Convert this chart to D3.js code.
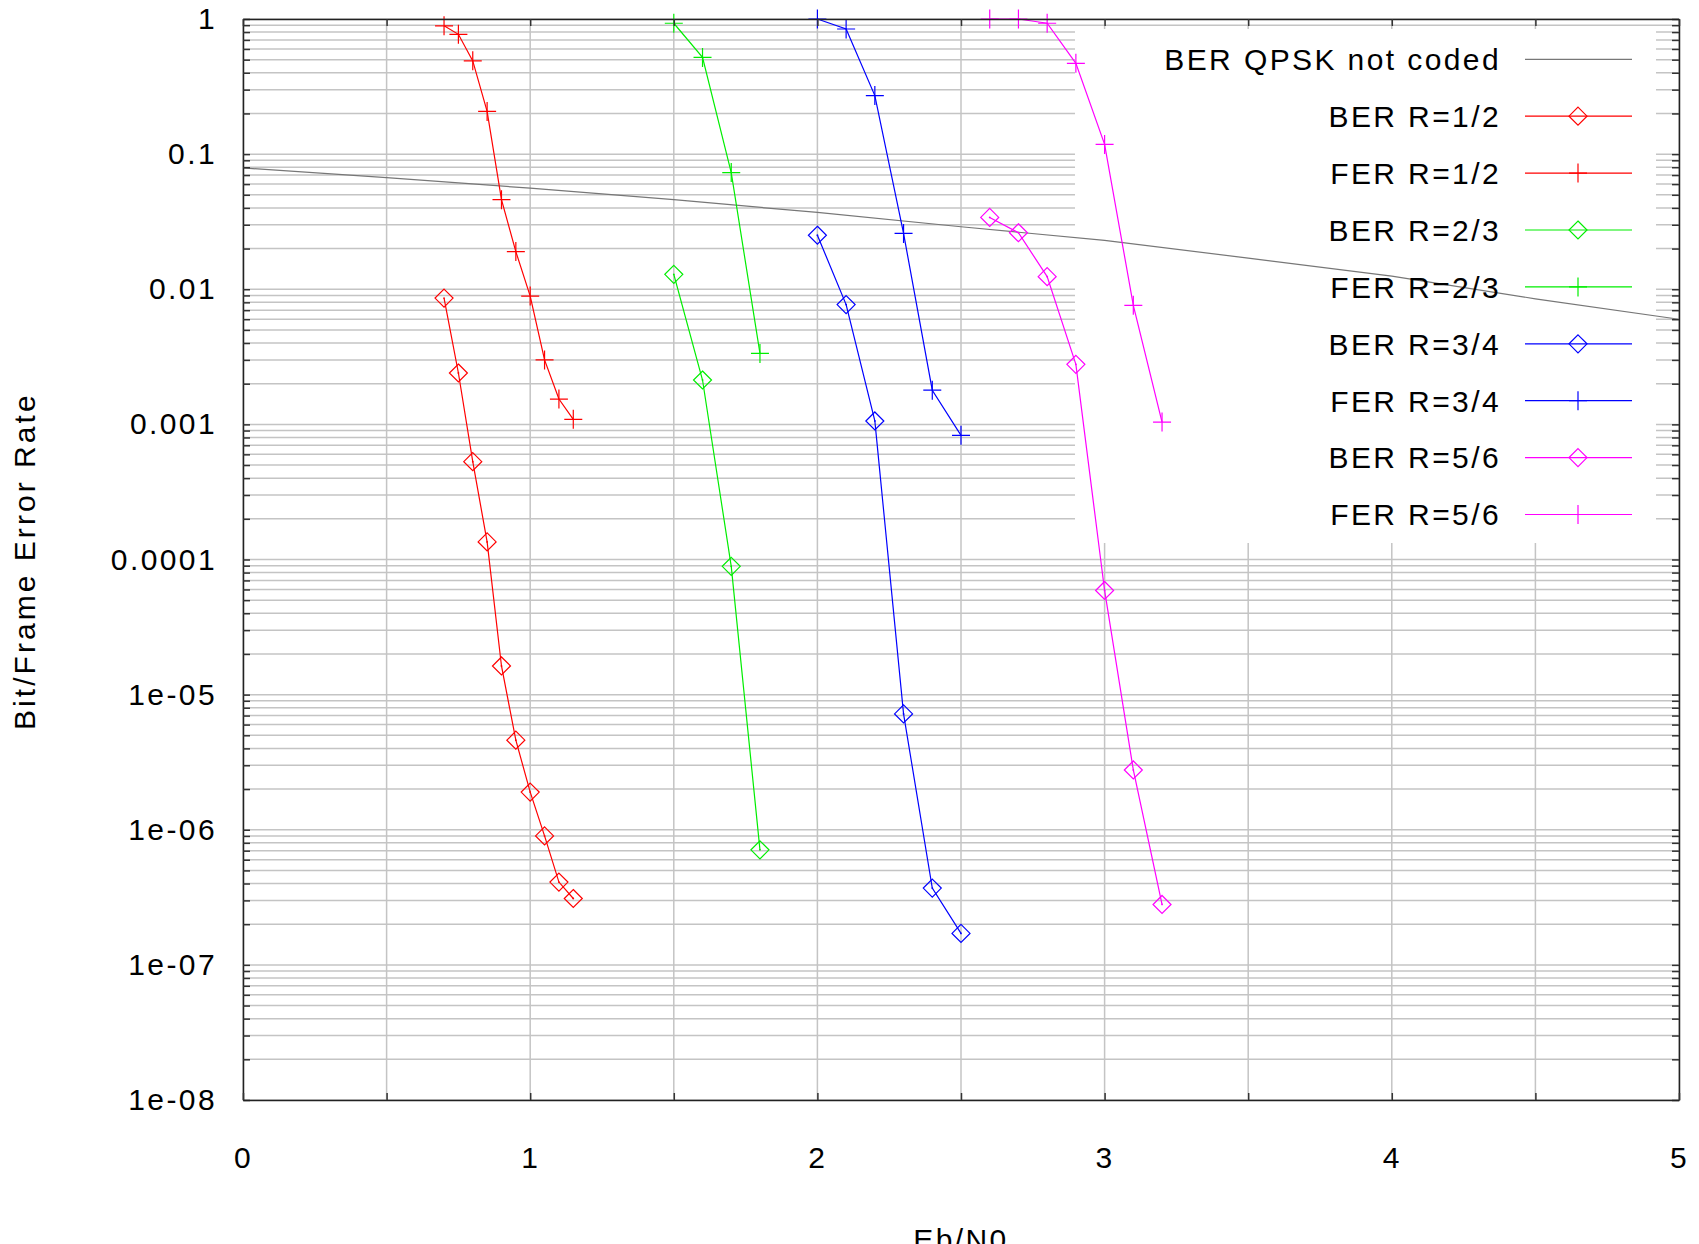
<!DOCTYPE html>
<html>
<head>
<meta charset="utf-8">
<title>BER / FER vs Eb/N0</title>
<script src="https://d3js.org/d3.v7.min.js"></script>
<style>
  body { margin: 0; background: #fff; }
  text {
    font-family: "Liberation Sans", Arial, Helvetica, sans-serif;
    font-size: 30px;
    fill: #000;
    letter-spacing: 2.4px;
  }
  .grid line { stroke: #c4c4c4; stroke-width: 1.5; }
  .axis path { stroke: #222; stroke-width: 1.5; }
  .axis line { stroke: #333; stroke-width: 1.5; }
</style>
</head>
<body>
<svg width="1699" height="1244"></svg>
<script>
// values
var ebn0Uncoded = [0, 0.5, 1, 1.5, 2, 2.5, 3, 3.5, 4, 4.5, 5];
var berUncoded  = [0.079, 0.067, 0.056, 0.046, 0.037, 0.029, 0.023, 0.017, 0.0125, 0.0085, 0.006];

var ebn0R12 = [0.7, 0.75, 0.8, 0.85, 0.9, 0.95, 1.0, 1.05, 1.1, 1.15];
var berR12  = [8.6e-3, 2.4e-3, 5.3e-4, 1.35e-4, 1.63e-5, 4.6e-6, 1.9e-6, 9.0e-7, 4.1e-7, 3.1e-7];
var ferR12  = [0.89, 0.77, 0.49, 0.207, 0.046, 0.019, 0.0089, 0.0030, 0.00154, 0.00109];

var ebn0R23 = [1.5, 1.6, 1.7, 1.8];
var berR23  = [0.0129, 0.00213, 8.9e-5, 7.1e-7];
var ferR23  = [0.93, 0.52, 0.073, 0.00335];

var ebn0R34 = [2.0, 2.1, 2.2, 2.3, 2.4, 2.5];
var berR34  = [0.0251, 0.0077, 0.00106, 7.2e-6, 3.7e-7, 1.71e-7];
var ferR34  = [1.0, 0.843, 0.271, 0.0259, 0.00179, 0.00083];

var ebn0R56 = [2.6, 2.7, 2.8, 2.9, 3.0, 3.1, 3.2];
var berR56  = [0.034, 0.0262, 0.0124, 0.00278, 5.9e-5, 2.77e-6, 2.8e-7];
var ferR56  = [1.0, 1.0, 0.93, 0.47, 0.118, 0.0076, 0.00104];

var xTickValues = [0, 0.5, 1, 1.5, 2, 2.5, 3, 3.5, 4, 4.5, 5];
var yDecades = [1, 1e-1, 1e-2, 1e-3, 1e-4, 1e-5, 1e-6, 1e-7, 1e-8];
var yTickLabels = ["1", "0.1", "0.01", "0.001", "0.0001", "1e-05", "1e-06", "1e-07", "1e-08"];

function zip(xs, ys) {
  return xs.map(function(v, i) { return [v, ys[i]]; });
}

var series = [
  { name: "BER QPSK not coded", color: "#777777", marker: null,      data: zip(ebn0Uncoded, berUncoded) },
  { name: "BER R=1/2", color: "#ff0000", marker: "diamond", data: zip(ebn0R12, berR12) },
  { name: "FER R=1/2", color: "#ff0000", marker: "plus",    data: zip(ebn0R12, ferR12) },
  { name: "BER R=2/3", color: "#00ee00", marker: "diamond", data: zip(ebn0R23, berR23) },
  { name: "FER R=2/3", color: "#00ee00", marker: "plus",    data: zip(ebn0R23, ferR23) },
  { name: "BER R=3/4", color: "#0000ff", marker: "diamond", data: zip(ebn0R34, berR34) },
  { name: "FER R=3/4", color: "#0000ff", marker: "plus",    data: zip(ebn0R34, ferR34) },
  { name: "BER R=5/6", color: "#ff00ff", marker: "diamond", data: zip(ebn0R56, berR56) },
  { name: "FER R=5/6", color: "#ff00ff", marker: "plus",    data: zip(ebn0R56, ferR56) }
];

var plotLeft = 243, plotRight = 1679, plotTop = 19, plotBottom = 1100;

var svg = d3.select("svg");

var x = d3.scaleLinear().domain([0, 5]).range([plotLeft, plotRight]);
var y = d3.scaleLog().domain([1, 1e-8]).range([plotTop, plotBottom]);

var markerPath = {
  diamond: "M0,-9L9,0L0,9L-9,0Z",
  plus: "M-9,0H9M0,-9.5V9.5"
};

// grid
var grid = svg.append("g").attr("class", "grid");
grid.selectAll(".gy")
  .data(y.ticks(100))
  .enter().append("line")
  .attr("x1", plotLeft).attr("x2", plotRight)
  .attr("y1", function(d) { return y(d); })
  .attr("y2", function(d) { return y(d); });
grid.selectAll(".gx")
  .data(xTickValues)
  .enter().append("line")
  .attr("x1", function(d) { return x(d); })
  .attr("x2", function(d) { return x(d); })
  .attr("y1", plotTop).attr("y2", plotBottom);

// legend background hides the grid under it
var legX = 1075, legY = 29, legW = 581, legH = 514;
svg.append("rect")
  .attr("x", legX).attr("y", legY)
  .attr("width", legW).attr("height", legH)
  .attr("fill", "#fff");

// curves
var line = d3.line()
  .x(function(d) { return x(d[0]); })
  .y(function(d) { return y(d[1]); });

var curves = svg.selectAll(".curve")
  .data(series)
  .enter().append("g")
  .attr("class", "curve");

curves.append("path")
  .attr("d", function(d) { return line(d.data); })
  .attr("fill", "none")
  .attr("stroke", function(d) { return d.color; })
  .attr("stroke-width", 1.2);

curves.each(function(s) {
  if (!s.marker) return;
  var g = d3.select(this);
  var pts = g.selectAll(".pt")
    .data(s.data)
    .enter().append("g")
    .attr("transform", function(d) { return "translate(" + x(d[0]) + "," + y(d[1]) + ")"; });
  pts.append("path")
    .attr("d", markerPath[s.marker])
    .attr("fill", "none")
    .attr("stroke", s.color)
    .attr("stroke-width", 1.2);
  if (s.marker === "diamond") {
    pts.append("circle").attr("r", 0.9).attr("fill", s.color);
  }
});

// legend entries
var legend = svg.selectAll(".leg")
  .data(series)
  .enter().append("g")
  .attr("class", "leg")
  .attr("transform", function(d, i) { return "translate(0," + (59.3 + i * 56.9) + ")"; });

legend.append("text")
  .attr("x", 1501)
  .attr("dy", "0.36em")
  .attr("text-anchor", "end")
  .text(function(d) { return d.name; });

legend.append("line")
  .attr("x1", 1525).attr("x2", 1632)
  .attr("stroke", function(d) { return d.color; })
  .attr("stroke-width", 1.2);

legend.filter(function(d) { return d.marker; })
  .append("path")
  .attr("transform", "translate(1578,0)")
  .attr("d", function(d) { return markerPath[d.marker]; })
  .attr("fill", "none")
  .attr("stroke", function(d) { return d.color; })
  .attr("stroke-width", 1.2);

// axes, ticks pointing inwards
var yAxisLeft = d3.axisLeft(y)
  .tickValues(y.ticks(100))
  .tickSizeInner(-7).tickSizeOuter(0).tickPadding(26)
  .tickFormat(function(d) {
    var i = yDecades.findIndex(function(v) { return Math.abs(Math.log10(v) - Math.log10(d)) < 1e-6; });
    return i >= 0 ? yTickLabels[i] : "";
  });
var yAxisRight = d3.axisRight(y)
  .tickValues(y.ticks(100))
  .tickSizeInner(-7).tickSizeOuter(0).tickFormat("");
var xAxisBottom = d3.axisBottom(x)
  .tickValues(xTickValues)
  .tickSizeInner(-7).tickSizeOuter(0).tickPadding(47)
  .tickFormat(function(d) { return d % 1 === 0 ? d3.format("d")(d) : ""; });
var xAxisTop = d3.axisTop(x)
  .tickValues(xTickValues)
  .tickSizeInner(-7).tickSizeOuter(0).tickFormat("");

svg.append("g").attr("class", "axis").attr("transform", "translate(" + plotLeft + ",0)").call(yAxisLeft);
svg.append("g").attr("class", "axis").attr("transform", "translate(" + plotRight + ",0)").call(yAxisRight);
svg.append("g").attr("class", "axis").attr("transform", "translate(0," + plotBottom + ")").call(xAxisBottom);
svg.append("g").attr("class", "axis").attr("transform", "translate(0," + plotTop + ")").call(xAxisTop);

svg.selectAll(".axis text")
  .attr("fill", "#000")
  .style("font-size", "30px")
  .style("font-family", "\"Liberation Sans\", Arial, sans-serif");

// axis titles
svg.append("text")
  .attr("x", x(2.5))
  .attr("y", 1250)
  .attr("text-anchor", "middle")
  .text("Eb/N0");

svg.append("text")
  .attr("transform", "translate(35," + ((plotTop + plotBottom) / 2 + 2) + ") rotate(-90)")
  .attr("text-anchor", "middle")
  .attr("textLength", 337)
  .attr("lengthAdjust", "spacing")
  .text("Bit/Frame Error Rate");
</script>
</body>
</html>
